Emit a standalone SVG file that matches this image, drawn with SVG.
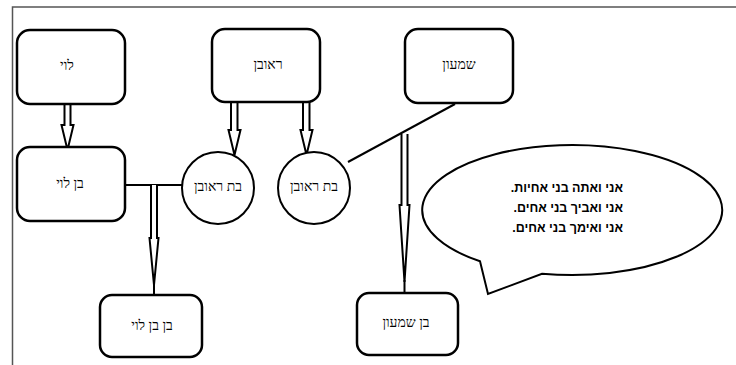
<svg xmlns="http://www.w3.org/2000/svg" width="736" height="365" viewBox="0 0 736 365">
<style>
.box{fill:#fff;stroke:#000;stroke-width:2.5}
.circ{fill:#fff;stroke:#000;stroke-width:2}
.t{font-family:"Liberation Serif","DejaVu Serif",serif;font-size:14px;fill:#000;text-anchor:middle;dominant-baseline:middle}
.bt{font-family:"Liberation Sans","DejaVu Sans",sans-serif;font-size:12.5px;font-weight:bold;fill:#000;direction:rtl;unicode-bidi:embed;text-anchor:start}
.ln{fill:none;stroke:#000;stroke-width:2}
.ar{fill:#fff;stroke:#000;stroke-width:2;stroke-linejoin:miter}
</style>
<rect x="0" y="0" width="736" height="365" fill="#fff"/>
<path d="M12.5,365 V7 H736" fill="none" stroke="#555" stroke-width="1.5"/>
<g id="connectors">
<line class="ln" x1="125" y1="185" x2="182" y2="185"/>
<line class="ln" x1="455" y1="104" x2="348" y2="162"/>
<path class="ar" d="M64.5,104 V125 H61.5 L67.5,150 L73.5,125 H70.5 V104"/>
<path class="ar" d="M231,102 V130 H228.5 L234.5,155 L240.5,130 H237.5 V102"/>
<path class="ar" d="M303,102 V130 H300.5 L306.5,155 L312.5,130 H309.5 V102"/>
<path class="ar" d="M151,185 V238 H149.5 L154,285 L158.5,238 H157 V185"/>
<line class="ln" x1="154" y1="283" x2="154" y2="295"/>
<path class="ar" d="M401.5,134 V205 H399.5 L404.5,282 L409.5,205 H407.5 V134"/>
<line class="ln" x1="404.5" y1="280" x2="404.5" y2="293"/>
</g>
<g id="levi"><rect class="box" x="17" y="30" width="108" height="74" rx="13"/><text class="t" x="67" y="67">לוי</text></g>
<g id="reuven"><rect class="box" x="212" y="29" width="108" height="73" rx="13"/><text class="t" x="268" y="66">ראובן</text></g>
<g id="shimon"><rect class="box" x="405" y="29" width="108" height="74" rx="13"/><text class="t" x="459" y="66">שמעון</text></g>
<g id="ben-levi"><rect class="box" x="17" y="147" width="108" height="74" rx="13"/><text class="t" x="70" y="185">בן לוי</text></g>
<g id="bat-reuven-1"><circle class="circ" cx="218" cy="188" r="36"/><text class="t" x="218" y="188">בת ראובן</text></g>
<g id="bat-reuven-2"><circle class="circ" cx="314" cy="188" r="36"/><text class="t" x="314" y="188">בת ראובן</text></g>
<g id="ben-ben-levi"><rect class="box" x="100" y="295" width="102" height="62" rx="12"/><text class="t" x="152" y="327">בן בן לוי</text></g>
<g id="ben-shimon"><rect class="box" x="357" y="293" width="101" height="62" rx="12"/><text class="t" x="406" y="324">בן שמעון</text></g>
<g id="bubble">
<path class="circ" d="M480,261.3 A150,65 0 1 1 542,273.7 L488,294 Z"/>
<text class="bt" x="623" y="192">אני ואתה בני אחיות.</text>
<text class="bt" x="623" y="212">אני ואביך בני אחים.</text>
<text class="bt" x="623" y="232">אני ואימך בני אחים.</text>
</g>
</svg>
